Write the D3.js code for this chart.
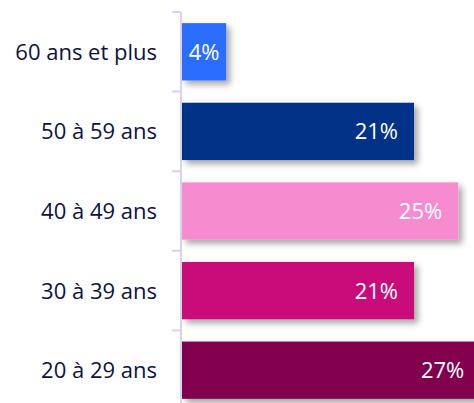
<!DOCTYPE html>
<html>
<head>
<meta charset="utf-8">
<script src="https://cdn.jsdelivr.net/npm/d3@7"></script>
<style>
  html, body { margin: 0; padding: 0; background: #fff; }
  svg { display: block; }
</style>
</head>
<body>
<svg id="chart" width="474" height="403"></svg>
<script>
// Age groups, top to bottom, with their share in percent
const categories = ["60 ans et plus", "50 à 59 ans", "40 à 49 ans", "30 à 39 ans", "20 à 29 ans"];
const values = [4, 21, 25, 21, 27];
const colors = ["#2a6dff", "#003087", "#f78bd0", "#c8087a", "#80064e"];

const svg = d3.select("#chart");
const font = "'Open Sans', 'Noto Sans', sans-serif";

const x0 = 182;
const x = d3.scaleLinear().domain([0, 21]).range([x0, 414]);
const y = d3.scaleBand().domain(categories).range([12, 410]).paddingInner(0.28).paddingOuter(0.14);

// soft drop shadow under each bar
const defs = svg.append("defs");
const f = defs.append("filter").attr("id", "shadow")
  .attr("x", "-10%").attr("y", "-20%").attr("width", "130%").attr("height", "160%");
f.append("feDropShadow").attr("dx", 4).attr("dy", 4).attr("stdDeviation", 3)
  .attr("flood-color", "#000").attr("flood-opacity", 0.35);

// bars
svg.append("g").selectAll("rect").data(categories).join("rect")
  .attr("x", x0)
  .attr("y", d => y(d))
  .attr("width", (d, i) => x(values[i]) - x0)
  .attr("height", y.bandwidth())
  .attr("fill", (d, i) => colors[i])
  .attr("filter", "url(#shadow)");

// value labels inside bars
svg.append("g").selectAll("text").data(categories).join("text")
  .attr("x", (d, i) => {
    const w = x(values[i]) - x0;
    return w > 60 ? x(values[i]) - 16 : x0 + w / 2;
  })
  .attr("y", d => y(d) + y.bandwidth() / 2)
  .attr("dy", "0.36em")
  .attr("text-anchor", (d, i) => (x(values[i]) - x0 > 60 ? "end" : "middle"))
  .attr("fill", "#fff")
  .attr("font-family", font)
  .attr("font-size", 22)
  .text((d, i) => values[i] + "%");

// category axis with ticks at band boundaries
const axisColor = "#d4d4f2";
const bounds = [12, 91.6, 171.2, 250.8, 330.4, 410];
const ax = svg.append("g");
ax.append("line").attr("x1", 181).attr("x2", 181).attr("y1", 12).attr("y2", 403)
  .attr("stroke", axisColor).attr("stroke-width", 2);
ax.selectAll("line.tick").data(bounds).join("line").attr("class", "tick")
  .attr("x1", 172).attr("x2", 181).attr("y1", d => d).attr("y2", d => d)
  .attr("stroke", axisColor).attr("stroke-width", 2);

ax.selectAll("text").data(categories).join("text")
  .attr("x", 157)
  .attr("y", d => y(d) + y.bandwidth() / 2)
  .attr("dy", "0.36em")
  .attr("text-anchor", "end")
  .attr("fill", "#0b1240")
  .attr("font-family", font)
  .attr("font-size", 22)
  .text(d => d);
</script>
</body>
</html>
